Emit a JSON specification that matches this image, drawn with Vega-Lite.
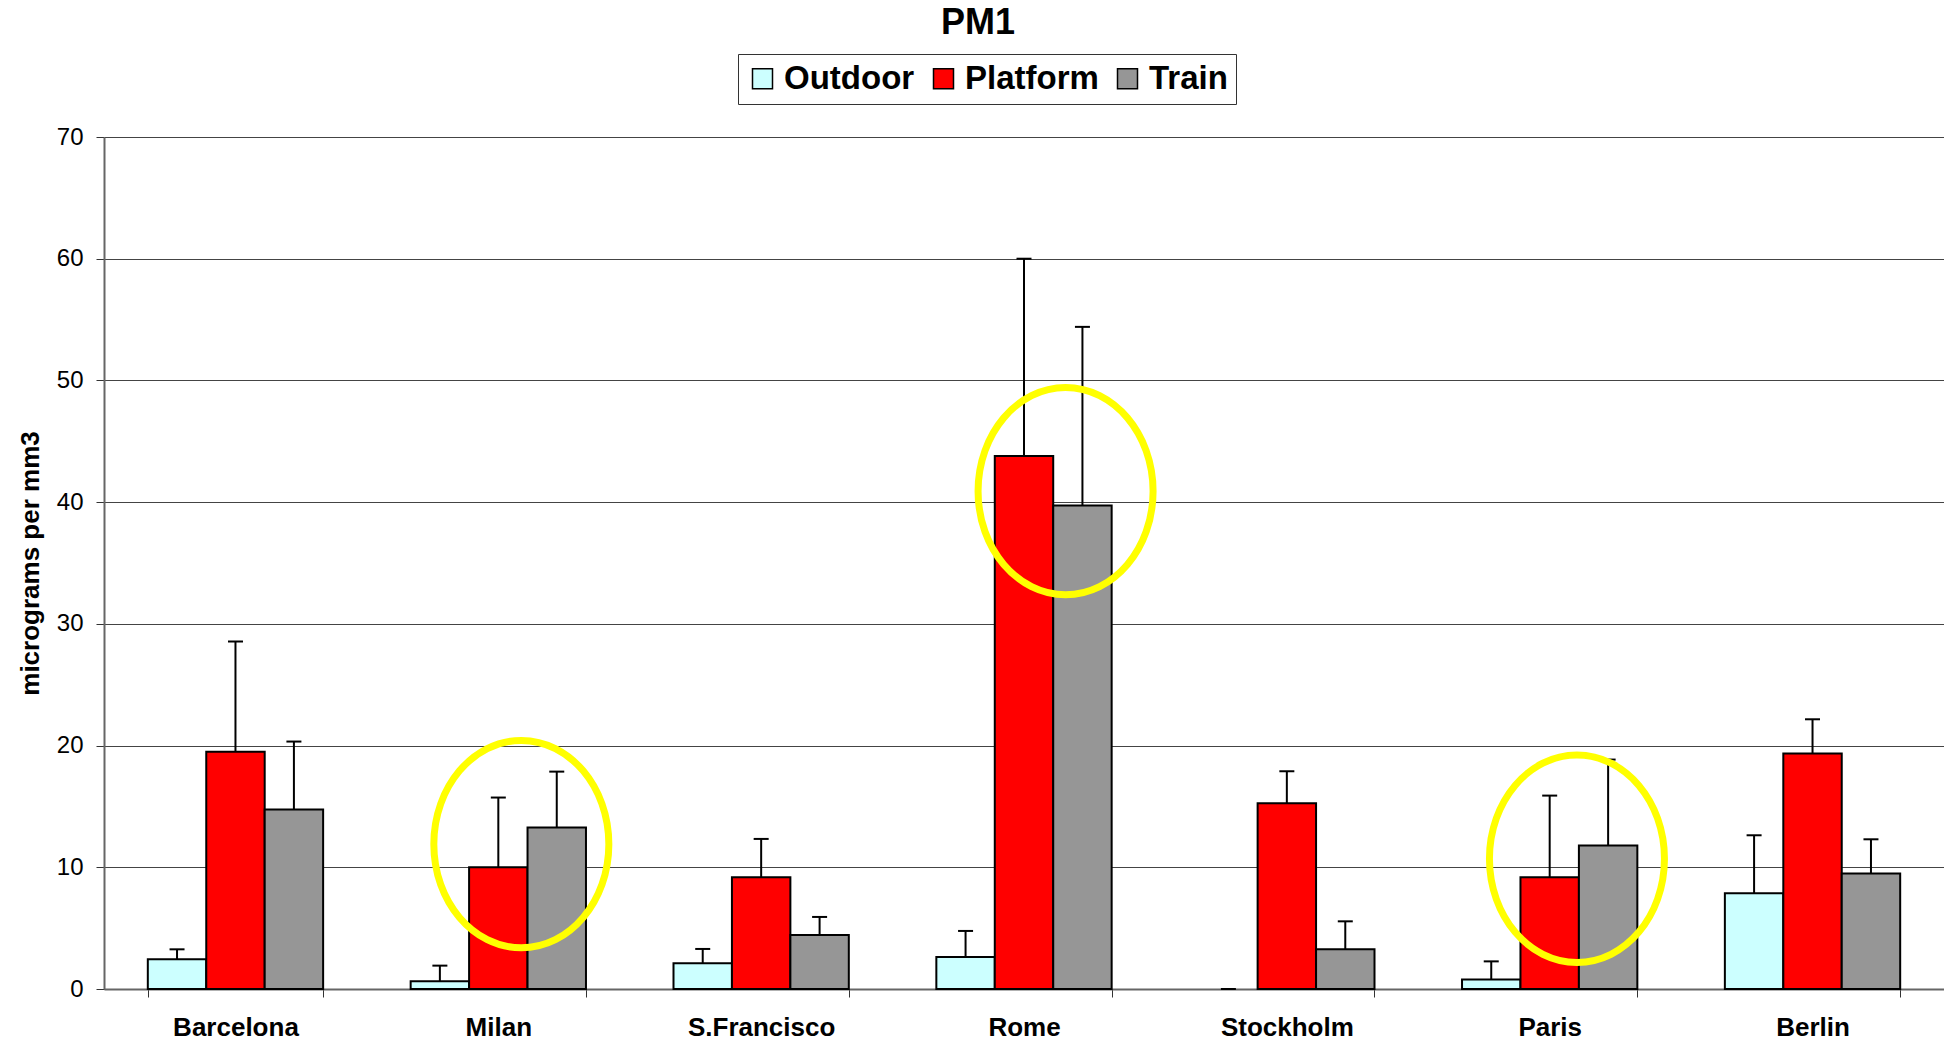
{
  "$schema": "https://vega.github.io/schema/vega-lite/v6.json",
  "width": 1840,
  "height": 852,
  "autosize": {"type": "none"},
  "padding": {"left": 104, "top": 137, "right": 0, "bottom": 52},
  "background": "white",
  "view": {"stroke": null},
  "title": {
    "text": "PM1",
    "font": "Liberation Sans",
    "fontSize": 36,
    "fontWeight": "bold",
    "color": "black",
    "anchor": "middle",
    "baseline": "alphabetic",
    "dx": -46,
    "dy": 33,
    "offset": 17
  },
  "datasets": {
    "pm": [
      {"city": "Barcelona", "series": "Outdoor", "value": 2.44, "upper": 3.26},
      {"city": "Barcelona", "series": "Platform", "value": 19.5, "upper": 28.55},
      {"city": "Barcelona", "series": "Train", "value": 14.74, "upper": 20.33},
      {"city": "Milan", "series": "Outdoor", "value": 0.63, "upper": 1.92},
      {"city": "Milan", "series": "Platform", "value": 10.0, "upper": 15.73},
      {"city": "Milan", "series": "Train", "value": 13.26, "upper": 17.86},
      {"city": "S.Francisco", "series": "Outdoor", "value": 2.11, "upper": 3.29},
      {"city": "S.Francisco", "series": "Platform", "value": 9.18, "upper": 12.33},
      {"city": "S.Francisco", "series": "Train", "value": 4.44, "upper": 5.92},
      {"city": "Rome", "series": "Outdoor", "value": 2.63, "upper": 4.77},
      {"city": "Rome", "series": "Platform", "value": 43.8, "upper": 60.0},
      {"city": "Rome", "series": "Train", "value": 39.73, "upper": 54.4},
      {"city": "Stockholm", "series": "Outdoor", "value": 0, "upper": 0},
      {"city": "Stockholm", "series": "Platform", "value": 15.26, "upper": 17.89},
      {"city": "Stockholm", "series": "Train", "value": 3.26, "upper": 5.56},
      {"city": "Paris", "series": "Outdoor", "value": 0.79, "upper": 2.27},
      {"city": "Paris", "series": "Platform", "value": 9.18, "upper": 15.89},
      {"city": "Paris", "series": "Train", "value": 11.78, "upper": 18.85},
      {"city": "Berlin", "series": "Outdoor", "value": 7.86, "upper": 12.63},
      {"city": "Berlin", "series": "Platform", "value": 19.34, "upper": 22.16},
      {"city": "Berlin", "series": "Train", "value": 9.48, "upper": 12.3}
    ],
    "highlights": [
      {"city": "Milan", "center": 11.9},
      {"city": "Rome", "center": 40.9},
      {"city": "Paris", "center": 10.7}
    ]
  },
  "encoding": {
    "x": {
      "field": "city",
      "type": "nominal",
      "sort": ["Barcelona", "Milan", "S.Francisco", "Rome", "Stockholm", "Paris", "Berlin"],
      "scale": {"paddingInner": 0.333, "paddingOuter": 0.1667},
      "axis": {
        "title": null,
        "labelAngle": 0,
        "labelFont": "Liberation Sans",
        "labelFontSize": 26,
        "labelFontWeight": "bold",
        "labelColor": "black",
        "labelPadding": 17,
        "tickBand": "extent",
        "tickSize": 8,
        "tickColor": "#333",
        "tickWidth": 1,
        "domainColor": "#666",
        "domainWidth": 2,
        "grid": false
      }
    }
  },
  "layer": [
    {
      "data": {"name": "pm"},
      "transform": [{"filter": "datum.value > 0"}],
      "mark": {"type": "bar", "stroke": "black", "strokeWidth": 2},
      "encoding": {
        "xOffset": {"field": "series", "type": "nominal", "sort": ["Outdoor", "Platform", "Train"], "scale": {"paddingInner": 0, "paddingOuter": 0}},
        "y": {
          "field": "value",
          "type": "quantitative",
          "scale": {"domain": [0, 70], "nice": false},
          "axis": {
            "values": [0, 10, 20, 30, 40, 50, 60, 70],
            "title": "micrograms per mm3",
            "titleFont": "Liberation Sans",
            "titleFontSize": 26,
            "titleFontWeight": "bold",
            "titleColor": "black",
            "titlePadding": 13,
            "labelFont": "Liberation Sans",
            "labelFontSize": 24,
            "labelColor": "black",
            "labelPadding": 13,
            "tickSize": 8,
            "tickColor": "#333",
            "grid": true,
            "gridColor": "#444",
            "gridWidth": 1,
            "domainColor": "#666",
            "domainWidth": 2
          }
        },
        "color": {
          "field": "series",
          "type": "nominal",
          "scale": {"domain": ["Outdoor", "Platform", "Train"], "range": ["#CCFFFF", "#FF0000", "#969696"]},
          "legend": {
            "title": null,
            "orient": "none",
            "legendX": 634,
            "legendY": -83,
            "direction": "horizontal",
            "symbolType": "square",
            "symbolSize": 400,
            "symbolStrokeColor": "black",
            "symbolStrokeWidth": 1.5,
            "symbolOpacity": 1,
            "labelFont": "Liberation Sans",
            "labelFontSize": 33,
            "labelFontWeight": "bold",
            "labelColor": "black",
            "labelOffset": 5,
            "columnPadding": 12,
            "padding": 8,
            "strokeColor": "#333",
            "fillColor": "white"
          }
        }
      }
    },
    {
      "data": {"name": "pm"},
      "mark": {"type": "rule", "color": "black", "strokeWidth": 2},
      "encoding": {
        "xOffset": {"field": "series", "type": "nominal", "sort": ["Outdoor", "Platform", "Train"]},
        "y": {"field": "value", "type": "quantitative"},
        "y2": {"field": "upper"}
      }
    },
    {
      "data": {"name": "pm"},
      "mark": {"type": "tick", "color": "black", "size": 15, "thickness": 2, "orient": "horizontal", "opacity": 1},
      "encoding": {
        "xOffset": {"field": "series", "type": "nominal", "sort": ["Outdoor", "Platform", "Train"]},
        "y": {"field": "upper", "type": "quantitative"}
      }
    },
    {
      "data": {"name": "highlights"},
      "mark": {
        "type": "point",
        "size": 43000,
        "filled": false,
        "color": "#FFFF00",
        "strokeWidth": 7,
        "opacity": 1
      },
      "encoding": {
        "y": {"field": "center", "type": "quantitative"},
        "shape": {
          "field": "city",
          "type": "nominal",
          "legend": null,
          "scale": {
            "domain": ["Milan", "Rome", "Paris"],
            "range": [
              "M -0.622,0 A 0.844,1 0 1,0 1.066,0 A 0.844,1 0 1,0 -0.622,0 Z",
              "M -0.443,0 A 0.844,1 0 1,0 1.245,0 A 0.844,1 0 1,0 -0.443,0 Z",
              "M -0.581,0 A 0.844,1 0 1,0 1.107,0 A 0.844,1 0 1,0 -0.581,0 Z"
            ]
          }
        }
      }
    }
  ]
}
